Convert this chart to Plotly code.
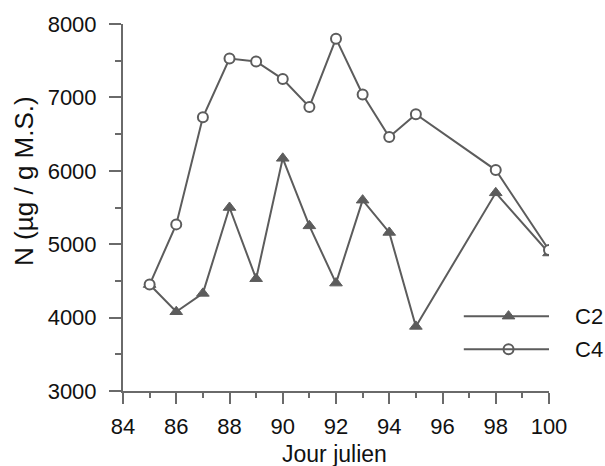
import plotly.graph_objects as go

days = [85, 86, 87, 88, 89, 90, 91, 92, 93, 94, 95, 98, 100]
c2 = [4450, 4080, 4330, 5500, 4530, 6170, 5250, 4470, 5600, 5160, 3880, 5700, 4880]
c4 = [4450, 5270, 6730, 7530, 7490, 7250, 6870, 7800, 7040, 6460, 6770, 6010, 4920]
series_names = ["C2", "C4"]
x_ticks = [84, 86, 88, 90, 92, 94, 96, 98, 100]
y_ticks = [3000, 4000, 5000, 6000, 7000, 8000]

GREY = "#5c5c5c"
AXIS = "#6a6a6a"
FONT = "Liberation Sans, Arial, sans-serif"

fig = go.Figure()
fig.add_trace(go.Scatter(
    x=days, y=c2, mode="lines+markers", name=series_names[0],
    line=dict(color=GREY, width=2),
    marker=dict(symbol="triangle-up", size=11, color=GREY, line=dict(color=GREY, width=1)),
))
fig.add_trace(go.Scatter(
    x=days, y=c4, mode="lines+markers", name=series_names[1],
    line=dict(color=GREY, width=2),
    marker=dict(symbol="circle", size=10, color="white", line=dict(color=GREY, width=2)),
))

# custom legend keys (overlay axes in plot-area fractions)
leg_y = [0.204, 0.114]
for yy in leg_y:
    fig.add_shape(type="line", xref="paper", yref="paper", x0=0.80, x1=1.0, y0=yy, y1=yy,
                  line=dict(color=GREY, width=2))
fig.add_trace(go.Scatter(
    x=[0.905], y=[leg_y[0]], xaxis="x2", yaxis="y2", mode="markers", showlegend=False,
    marker=dict(symbol="triangle-up", size=11, color=GREY, line=dict(color=GREY, width=1)),
))
fig.add_trace(go.Scatter(
    x=[0.905], y=[leg_y[1]], xaxis="x2", yaxis="y2", mode="markers", showlegend=False,
    marker=dict(symbol="circle", size=10, color="white", line=dict(color=GREY, width=2)),
))
for name, yy in zip(series_names, leg_y):
    fig.add_annotation(text=name, xref="paper", yref="paper", x=1.056, y=yy,
                       xanchor="left", yanchor="middle", showarrow=False,
                       font=dict(size=22, color="#111", family=FONT))

fig.add_annotation(text="N (µg / g M.S.)", xref="paper", yref="paper",
                   x=-0.232, y=0.573, textangle=-90, showarrow=False,
                   xanchor="center", yanchor="middle",
                   font=dict(size=26, color="#111", family=FONT))
fig.add_annotation(text="Jour julien", xref="paper", yref="paper",
                   x=0.497, y=-0.172, showarrow=False, xanchor="center", yanchor="middle",
                   font=dict(size=23, color="#111", family=FONT))

fig.update_layout(
    width=605, height=466, autosize=False,
    margin=dict(l=123, r=56, t=24, b=75),
    plot_bgcolor="white", paper_bgcolor="white",
    showlegend=False,
    font=dict(family=FONT, size=22, color="#111"),
    xaxis=dict(
        range=[84, 100], tickvals=x_ticks, showgrid=False, zeroline=False,
        showline=True, linecolor=AXIS, linewidth=2,
        ticks="outside", ticklen=11, tickwidth=2, tickcolor=AXIS,
        minor=dict(dtick=1, ticks="outside", ticklen=5, tickwidth=2, tickcolor=AXIS),
        tickfont=dict(size=22, color="#111", family=FONT),
        ticklabelstandoff=4,
    ),
    yaxis=dict(
        range=[3000, 8000], tickvals=y_ticks, showgrid=False, zeroline=False,
        showline=True, linecolor=AXIS, linewidth=2,
        ticks="outside", ticklen=12, tickwidth=2, tickcolor=AXIS,
        minor=dict(dtick=500, ticks="outside", ticklen=6, tickwidth=2, tickcolor=AXIS),
        tickfont=dict(size=22, color="#111", family=FONT),
        ticklabelstandoff=8,
    ),
    xaxis2=dict(range=[0, 1], overlaying="x", visible=False, fixedrange=True),
    yaxis2=dict(range=[0, 1], overlaying="y", visible=False, fixedrange=True),
)

fig.write_html(
    "out.html",
    config={"displayModeBar": False},
    post_script="document.body.style.margin='0';document.body.style.overflow='hidden';",
)
